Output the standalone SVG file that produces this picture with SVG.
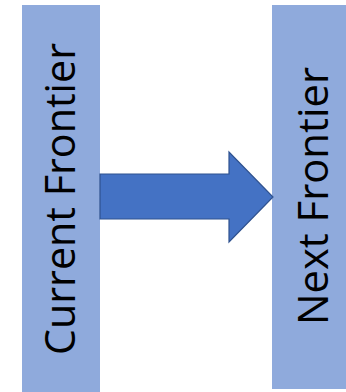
<svg xmlns="http://www.w3.org/2000/svg" width="346" height="392" viewBox="0 0 346 392">
  <style>
    .bar { fill: #8FAADC; }
    .label { font-family: "Open Sans", "Noto Sans", sans-serif; font-size: 42px; fill: #000; text-anchor: middle; }
    .arrow { fill: #4472C4; stroke: #2F528F; stroke-width: 1.2; }
  </style>
  <rect width="346" height="392" fill="#fff"/>
  <g id="current-frontier">
    <rect class="bar" x="22" y="5" width="78" height="387"/>
    <text class="label" transform="translate(75,199) rotate(-90)" textLength="312" lengthAdjust="spacingAndGlyphs">Current Frontier</text>
  </g>
  <g id="next-frontier">
    <rect class="bar" x="272" y="5" width="74" height="384"/>
    <text class="label" transform="translate(328,196) rotate(-90)" textLength="258" lengthAdjust="spacingAndGlyphs">Next Frontier</text>
  </g>
  <g id="connectors">
    <polygon class="arrow" points="100,174 229,174 229,152 273,197 229,242 229,219 100,219"/>
  </g>
</svg>
